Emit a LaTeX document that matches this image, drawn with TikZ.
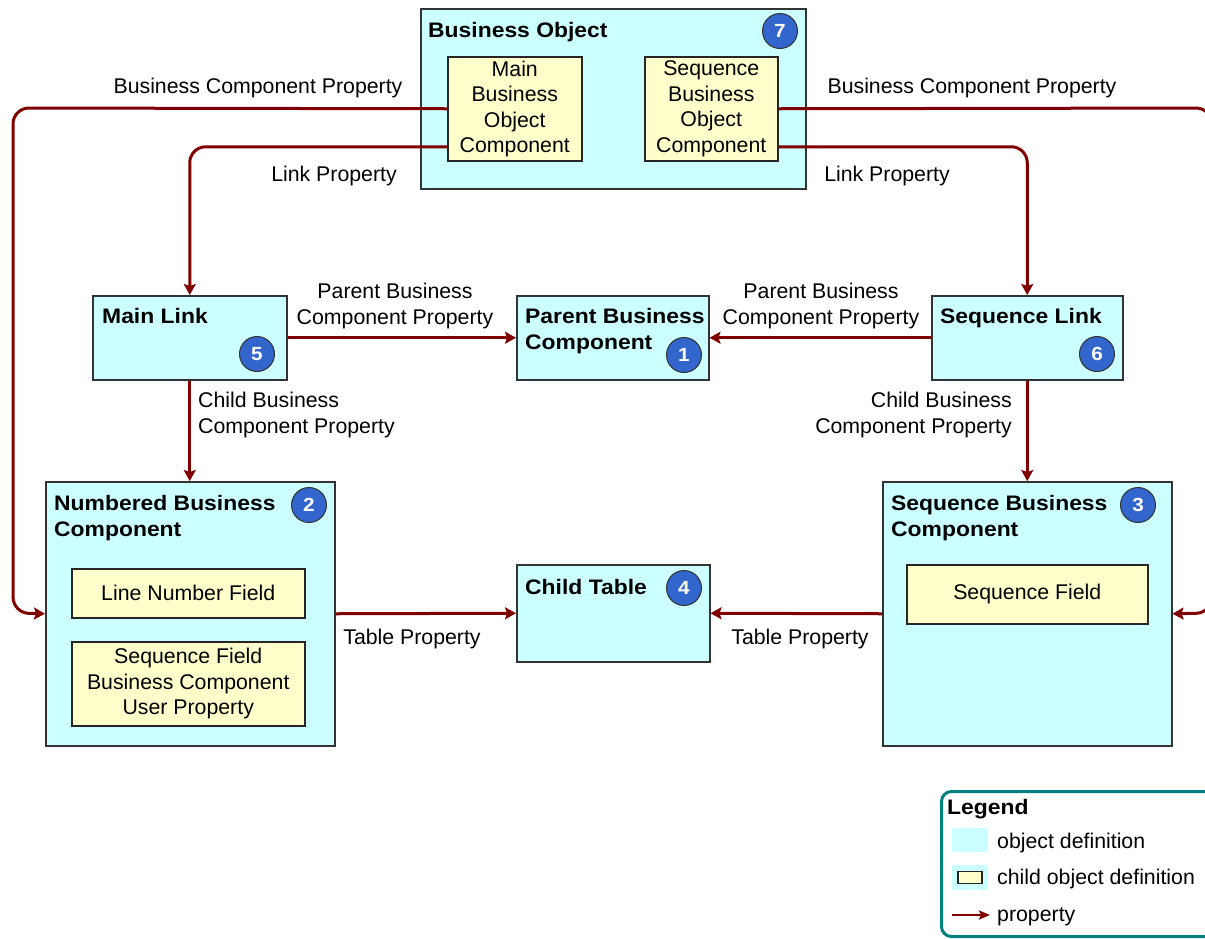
\documentclass[tikz,border=0pt]{standalone}
\usepackage{fontspec}
\setmainfont{Liberation Sans}
\newfontfamily\boldf[FakeStretch=1.09]{Liberation Sans Bold}
\usetikzlibrary{arrows.meta}
\definecolor{objc}{RGB}{204,255,255}
\definecolor{childc}{RGB}{255,255,204}
\definecolor{propc}{RGB}{128,0,0}
\definecolor{badgec}{RGB}{51,102,204}
\definecolor{legc}{RGB}{0,128,128}
\newcommand\lblf{\fontsize{21.3}{25.5}\selectfont}
\newcommand\titlef{\boldf\fontsize{21}{26}\selectfont}
\newcommand\badgef{\boldf\fontsize{19}{19}\selectfont}
\tikzset{
  obj/.style={draw=black!80, line width=1.5pt, fill=objc, anchor=north west, inner sep=0pt},
  child/.style={draw=black!85, line width=1.5pt, fill=childc, anchor=north west, inner sep=0pt, align=center, font=\lblf},
  title/.style={font=\titlef, align=left, inner sep=0pt},
  badge/.style={circle, fill=badgec, draw=black!80, line width=1pt, minimum size=35pt, inner sep=0pt, text=white, font=\badgef},
  prop/.style={draw=propc, line width=3pt, -{Stealth[length=11pt,width=12pt,inset=2pt]}},
  lbl/.style={font=\lblf, inner sep=0pt, align=center},
}
\begin{document}
\begin{tikzpicture}[x=1pt,y=-1pt]
\useasboundingbox (0,0) rectangle (1205,938);
% boxes
\node[obj, minimum width=385pt, minimum height=180pt] (bo) at (420,8) {};
\node[child, minimum width=134pt, minimum height=104pt] (mboc) at (447,56) {Main\\Business\\Object\\Component};
\node[child, minimum width=133pt, minimum height=104pt] (sboc) at (644,56) {Sequence\\Business\\Object\\Component};
\node[obj, minimum width=194pt, minimum height=84pt] (ml) at (92,295) {};
\node[obj, minimum width=192pt, minimum height=84pt] (pbc) at (516,295) {};
\node[obj, minimum width=191pt, minimum height=84pt] (sl) at (931,295) {};
\node[obj, minimum width=289pt, minimum height=264pt] (nbc) at (45,481) {};
\node[child, minimum width=233pt, minimum height=49pt] (lnf) at (71,568) {Line Number Field};
\node[child, minimum width=233pt, minimum height=84pt] (sfp) at (71,641) {Sequence Field\\Business Component\\User Property};
\node[obj, minimum width=193pt, minimum height=97pt] (ct) at (516,564) {};
\node[obj, minimum width=289pt, minimum height=264pt] (sbc) at (882,481) {};
\node[child, minimum width=241pt, minimum height=59pt] (sf) at (906,564) {Sequence Field};
% titles
\node[title, anchor=base west] (tbo) at (428,37) {Business Object};
\node[title, anchor=base west] (tml) at (102,323) {Main Link};
\node[title, anchor=north west] (tpbc) at (525,308) {Parent Business\\Component};
\node[title, anchor=base west] (tsl) at (940,323) {Sequence Link};
\node[title, anchor=north west] (tnbc) at (54,495) {Numbered Business\\Component};
\node[title, anchor=base west] (tct) at (525,594) {Child Table};
\node[title, anchor=north west] (tsbc) at (891,495) {Sequence Business\\Component};
% badges
\node[badge] (b7) at (780,31) {7};
\node[badge] (b5) at (257,354) {5};
\node[badge] (b1) at (684,355) {1};
\node[badge] (b6) at (1097,354) {6};
\node[badge] (b2) at (309,505) {2};
\node[badge] (b4) at (684,588) {4};
\node[badge] (b3) at (1138,505) {3};
% labels
\node[lbl, anchor=base] (l1) at (258,93) {Business Component Property};
\node[lbl, anchor=base] (l2) at (334,181) {Link Property};
\node[lbl, anchor=base] (l3) at (972,93) {Business Component Property};
\node[lbl, anchor=base] (l4) at (887,181) {Link Property};
\node[lbl, anchor=north] (l5) at (395,283) {Parent Business\\Component Property};
\node[lbl, anchor=north] (l6) at (821,283) {Parent Business\\Component Property};
\node[lbl, anchor=north west, align=left] (l7) at (198,392) {Child Business\\Component Property};
\node[lbl, anchor=north east, align=right] (l8) at (1012,392) {Child Business\\Component Property};
\node[lbl, anchor=base] (l9) at (412,644) {Table Property};
\node[lbl, anchor=base] (l10) at (800,644) {Table Property};
% connectors
\draw[prop, rounded corners=16pt] (mboc.west) -- (13,108) -- (13,613) -- (nbc.west);
\draw[prop, rounded corners=16pt] ([yshift=-38pt]mboc.west) -| (ml.north);
\draw[prop, rounded corners=16pt] (sboc.east) -- (1212,108) -- (1212,613) -- (sbc.east);
\draw[prop, rounded corners=16pt] ([yshift=-38pt]sboc.east) -| (sl.north);
\draw[prop] (ml.east) -- (pbc.west);
\draw[prop] (sl.west) -- (pbc.east);
\draw[prop] (ml.south) -- (ml.south |- nbc.north);
\draw[prop] (sl.south) -- (sl.south |- sbc.north);
\draw[prop] (nbc.east) -- (ct.west);
\draw[prop] (sbc.west) -- (ct.east);
% legend
\node[draw=legc, line width=3pt, rounded corners=10pt, minimum width=300pt, minimum height=145pt, anchor=north west, inner sep=0pt] (legend) at (940,790) {};
\node[title, anchor=base west] (tleg) at (947,814) {Legend};
\node[fill=objc, minimum width=36pt, minimum height=24pt, anchor=north west, inner sep=0pt] (k1) at (952,828) {};
\node[lbl, anchor=base west] (k1t) at (997,848) {object definition};
\node[fill=objc, minimum width=36pt, minimum height=25pt, anchor=north west, inner sep=0pt] (k2) at (952,865) {};
\node[draw=black!85, line width=1.5pt, fill=childc, minimum width=24pt, minimum height=12pt, inner sep=0pt] (k2i) at (k2.center) {};
\node[lbl, anchor=base west] (k2t) at (997,884) {child object definition};
\coordinate (k3a) at (952,915);
\coordinate (k3b) at (990,915);
\node[lbl, anchor=base west] (k3t) at (997,921) {property};
\draw[draw=propc, line width=2.5pt, -{Stealth[length=11pt,width=9pt,inset=2pt]}] (k3a) -- (k3b);
\end{tikzpicture}
\end{document}
